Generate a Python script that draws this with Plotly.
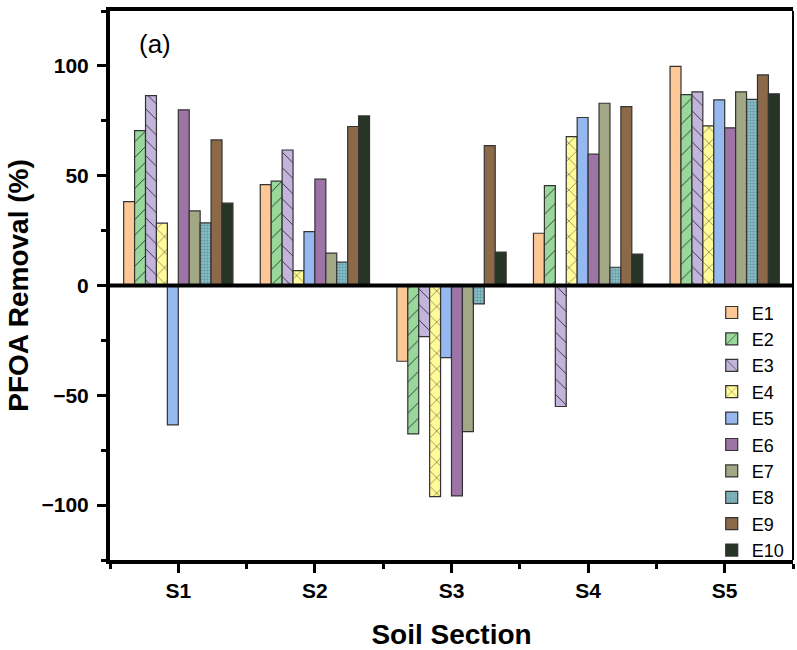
import plotly.graph_objects as go

sections = ["S1", "S2", "S3", "S4", "S5"]
series_names = ["E1", "E2", "E3", "E4", "E5", "E6", "E7", "E8", "E9", "E10"]

E1 = [38.2, 45.9, -34.5, 23.8, 99.8]
E2 = [70.5, 47.5, -67.6, 45.5, 86.9]
E3 = [86.5, 61.7, -23.3, -55.1, 88.2]
E4 = [28.4, 6.8, -96.1, 67.8, 72.7]
E5 = [-63.5, 24.5, -32.8, 76.5, 84.5]
E6 = [80.0, 48.4, -95.8, 59.8, 71.8]
E7 = [34.0, 14.7, -66.5, 83.0, 88.2]
E8 = [28.5, 10.6, -8.4, 8.3, 84.8]
E9 = [66.3, 72.4, 63.7, 81.5, 95.9]
E10 = [37.5, 77.2, 15.2, 14.3, 87.3]

values = [E1, E2, E3, E4, E5, E6, E7, E8, E9, E10]

colors = ["#FDC896", "#98D89A", "#C3B4DC", "#FFFB98", "#96B8F0",
          "#9E74A6", "#A2A786", "#8ABAC3", "#8B6949", "#263525"]
shapes_pat = ["", "/", "\\", "x", "", "", "", "+", "", ""]

x_pos = [i + 1 for i in range(len(sections))]

FONT = "Liberation Sans, Arial, sans-serif"

fig = go.Figure()
for name, vals, col, pat in zip(series_names, values, colors, shapes_pat):
    pattern = dict(shape=pat)
    if pat in ("/", "\\", "x"):
        pattern.update(bgcolor=col, fgcolor="#2a2a2a", size=11, solidity=0.08, fillmode="replace")
    elif pat == "+":
        pattern.update(bgcolor=col, fgcolor="#5f9aa5", size=3, solidity=0.35, fillmode="replace")
    fig.add_trace(go.Bar(
        x=x_pos, y=vals, name=name,
        marker=dict(color=col, line=dict(color="#333333", width=1.2), pattern=pattern),
    ))

fig.update_layout(
    width=797, height=650,
    margin=dict(l=110, r=4, t=11, b=90, autoexpand=False),
    plot_bgcolor="white", paper_bgcolor="white",
    barmode="group", bargap=0.2, bargroupgap=0,
    font=dict(family=FONT, color="black"),
    legend=dict(
        x=0.881, y=0.484, xanchor="left", yanchor="top",
        font=dict(size=18, family=FONT, color="black"),
        bgcolor="rgba(255,255,255,0)", borderwidth=0,
        itemwidth=30, tracegroupgap=0,
    ),
    showlegend=True,
)

fig.update_xaxes(
    range=[0.5, 5.5], automargin=False,
    tickmode="array", tickvals=x_pos, ticktext=sections,
    showline=True, linecolor="black", linewidth=4, mirror=True,
    ticks="outside", ticklen=9, tickwidth=3, tickcolor="black",
    minor=dict(tickmode="linear", tick0=0.5, dtick=1, ticks="outside", ticklen=5, tickwidth=3, tickcolor="black"),
    tickfont=dict(size=21, family=FONT, weight="bold"),
    title=dict(text="Soil Section", font=dict(size=28, family=FONT, weight="bold"), standoff=24),
    showgrid=False, zeroline=False,
)
fig.update_yaxes(
    range=[-125, 125], automargin=False,
    tickmode="linear", tick0=0, dtick=50,
    showline=True, linecolor="black", linewidth=4, mirror=False,
    ticks="outside", ticklen=9, tickwidth=3, tickcolor="black",
    minor=dict(tickmode="linear", tick0=0, dtick=25, ticks="outside", ticklen=5, tickwidth=3, tickcolor="black"),
    tickfont=dict(size=21, family=FONT, weight="bold"),
    ticklabelstandoff=4,
    title=dict(text="PFOA Removal (%)", font=dict(size=28, family=FONT, weight="bold"), standoff=6),
    showgrid=False, zeroline=False,
)

# zero reference line and thin right border
fig.add_shape(type="line", xref="paper", yref="y", x0=0, x1=1, y0=0, y1=0,
              line=dict(color="black", width=4), layer="above")
fig.add_shape(type="line", xref="paper", yref="paper", x0=1, x1=1, y0=0, y1=1,
              line=dict(color="black", width=2), layer="above")

fig.add_annotation(text="(a)", xref="paper", yref="paper", x=0.066, y=0.94,
                   xanchor="center", yanchor="middle",
                   showarrow=False, font=dict(size=26, family=FONT, color="black"))

fig.write_html("out.html", config={"displayModeBar": False},
               post_script="document.body.style.margin='0';document.body.style.overflow='hidden';")
